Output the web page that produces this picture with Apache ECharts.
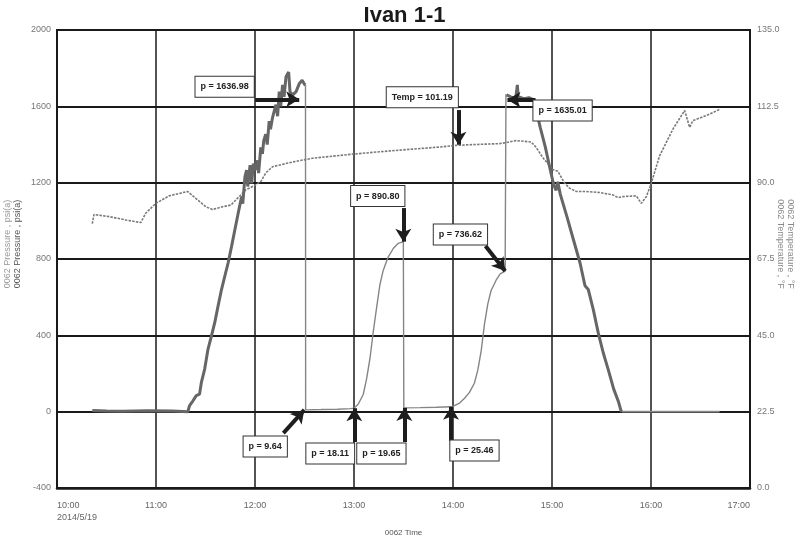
<!DOCTYPE html>
<html>
<head>
<meta charset="utf-8">
<script src="https://cdn.jsdelivr.net/npm/echarts@6/dist/echarts.min.js"></script>
<style>
html,body{margin:0;padding:0;background:#fff;}
#chart{width:809px;height:539px;}
</style>
</head>
<body>
<div id="chart"></div>
<script>
// ---- Data (time = minutes after 10:00 on 2014/5/19) ----
var chartTitle = 'Ivan 1-1';
var dateLabel = '2014/5/19';
var baseHour = 10;
var xTickMinutes = [0, 60, 120, 180, 240, 300, 360, 420];
var pressureTicks = [-400, 0, 400, 800, 1200, 1600, 2000];
var temperatureTicks = [0, 22.5, 45, 67.5, 90, 112.5, 135];

// pressure, first ramp up (psi(a))
var pUpTime = [21.4, 30, 40, 55, 70, 79.3, 80.3, 81.4, 82.4, 84.4, 86.4, 87.5, 89.5, 91.5, 93.6, 95.6, 97.6, 99.7, 101.7, 103.7, 105.8, 107.8, 109.8, 111.9, 112.6, 113.9, 114.9, 115.6, 117, 118, 119, 120, 121.4, 122.2, 123.5, 124.5, 125.3, 126.5, 127.4, 128.6, 129.4, 130.6, 131.6, 132.7, 133.7, 134.7, 135.6, 136.7, 137.6, 138.8, 140.4, 141.2, 142.9, 144.9, 146.9, 148.6, 150, 150.6];
var pUpValue = [6, 3, 2, 5, 3, 0, 31, 31, 57, 84, 92, 153, 223, 327, 397, 466, 553, 640, 710, 779, 866, 953, 1040, 1127, 1090, 1231, 1266, 1180, 1292, 1196, 1300, 1266, 1317, 1250, 1385, 1351, 1420, 1454, 1400, 1523, 1480, 1540, 1574, 1609, 1548, 1677, 1600, 1712, 1650, 1755, 1780, 1677, 1660, 1677, 1720, 1737, 1715, 1712];

// pressure, middle part (thin)
var pMidTime = [150.6, 150.7, 160, 170, 178, 180, 182.6, 185.6, 187.6, 189.7, 191.7, 193.7, 195.7, 197.7, 200.7, 203.8, 206.8, 209.9, 210.2, 220, 230, 238.8, 240.5, 244, 247, 250, 253, 255.1, 257.1, 259.1, 261.1, 263.1, 266.2, 268.6, 271.6, 272.1];
var pMidValue = [1712, 9.64, 11, 13, 16, 18.11, 40, 90, 170, 280, 420, 545, 665, 740, 810, 855, 882, 890.8, 19.65, 21, 23, 25.46, 30, 45, 70, 101, 150, 220, 320, 460, 565, 635, 690, 722, 736.62, 1665];

// pressure, ramp down
var pDnTime = [272.5, 275, 278, 279, 279.5, 283, 286, 289, 292.9, 296, 299, 301, 302.5, 303.5, 305, 309, 313, 317, 320, 322, 325, 328, 331, 334, 337.4, 340.4, 341.8, 342.4];
var pDnValue = [1660, 1650, 1640, 1712, 1650, 1640, 1645, 1634, 1488, 1385, 1265, 1190, 1160, 1205, 1140, 1023, 901, 779, 660, 640, 536, 414, 310, 223, 118, 49, 5, 0];

// pressure, final flat tail
var pTailTime = [342.4, 370, 401.6];
var pTailValue = [0, 0, 0];

// temperature (°F)
var tempTime = [21.4, 22.4, 31.5, 41.7, 50.8, 53.8, 59.9, 67.9, 79.1, 80.1, 84.1, 90.2, 94.2, 100.3, 105.4, 110.4, 114.5, 119.5, 123.6, 126.6, 130.6, 142.8, 154.9, 165.0, 179.2, 195.4, 215.6, 231.8, 241.9, 256.0, 268.2, 272.2, 278.3, 287.4, 290.4, 294.4, 300.5, 303.5, 307.6, 310.6, 314.7, 320.8, 328.8, 336.9, 339.9, 342.9, 351.1, 354.1, 357.2, 360.2, 365.2, 373.3, 380.4, 383.4, 385.4, 393.6, 401.6];
var tempValue = [77.9, 80.6, 80.0, 79.0, 78.25, 81.0, 83.9, 86.1, 87.4, 87.9, 85.4, 82.9, 82.1, 82.9, 83.4, 85.9, 87.9, 89.1, 90.4, 92.9, 94.7, 96.1, 97.2, 97.7, 98.4, 99.1, 99.9, 100.5, 101.0, 101.3, 101.5, 101.8, 102.4, 102.0, 100.4, 97.4, 93.9, 93.4, 89.9, 88.4, 87.4, 87.4, 87.1, 86.4, 85.6, 85.9, 86.1, 83.9, 85.9, 89.9, 97.9, 105.8, 111.3, 106.3, 108.3, 109.8, 111.6];

// annotations on pressure: text, box centre, arrow start, arrow tip
var pNoteText  = ['p = 1636.98', 'p = 1635.01', 'p = 890.80', 'p = 736.62', 'p = 9.64', 'p = 18.11', 'p = 19.65', 'p = 25.46'];
var pNoteBox   = [[101.6, 1700], [306.4, 1576], [194.4, 1127], [244.5, 926], [126.2, -185], [165.6, -222], [196.6, -222], [253, -206]];
var pNoteFrom  = [[120.1, 1637], [290, 1635], [209.9, 1067], [259.7, 868], [137.2, -112], [180.2, -159], [210.5, -159], [238.8, -154]];
var pNoteTo    = [[146.8, 1636.98], [273, 1635.01], [209.9, 890.8], [271.6, 736.62], [149.9, 9.64], [180.2, 18.11], [210.5, 19.65], [238.8, 25.46]];
// annotation on temperature
var tNoteText = ['Temp = 101.19'];
var tNoteBox  = [[221.4, 115.0]];
var tNoteFrom = [[243.3, 111.4]];
var tNoteTo   = [[243.3, 101.19]];

function zip(a, b) { return a.map(function (v, i) { return [v, b[i]]; }); }
function fmtTime(v) {
  var h = baseHour + Math.floor(v / 60), m = Math.round(v % 60);
  return h + ':' + (m < 10 ? '0' + m : m);
}

var font = "'Liberation Sans', Arial, sans-serif";
var boxLabel = {
  show: true, position: 'inside', color: '#222', fontWeight: 'bold', fontSize: 9,
  fontFamily: font, backgroundColor: '#fff', borderColor: '#333', borderWidth: 1,
  padding: [6, 5, 5, 5]
};
function notePoints(texts, boxes) {
  return texts.map(function (t, i) {
    return { coord: boxes[i], value: t, symbolSize: 1, itemStyle: { color: 'rgba(0,0,0,0)' },
             label: Object.assign({ formatter: t }, boxLabel) };
  });
}
function noteArrows(from, to) {
  return from.map(function (f, i) { return [{ coord: f }, { coord: to[i] }]; });
}
var arrowStyle = {
  symbol: ['none', 'arrow'], symbolSize: [12, 13], silent: true,
  lineStyle: { color: '#1e1e1e', width: 4, type: 'solid', opacity: 1 },
  label: { show: false }
};

var chart = echarts.init(document.getElementById('chart'), null, { renderer: 'canvas' });
chart.setOption({
  animation: false,
  backgroundColor: '#fff',
  title: {
    text: chartTitle, left: 'center', top: 0,
    textStyle: { fontSize: 22, fontWeight: 'bold', color: '#1a1a1a', fontFamily: font }
  },
  grid: { left: 57, right: 59, top: 30, bottom: 51, outerBoundsMode: 'none', containLabel: false,
          show: true, borderColor: '#1a1a1a', borderWidth: 2, backgroundColor: 'transparent' },
  xAxis: {
    type: 'value', min: xTickMinutes[0], max: xTickMinutes[xTickMinutes.length - 1], interval: 60,
    name: '0062 Time', nameLocation: 'middle', nameGap: 41, nameMoveOverlap: false,
    nameTextStyle: { color: '#555', fontSize: 8, fontFamily: font },
    axisLine: { show: true, onZero: false, lineStyle: { color: '#1a1a1a', width: 2.5 } },
    axisTick: { show: false },
    axisLabel: {
      margin: 12, color: '#666', fontSize: 9, fontFamily: font, lineHeight: 12,
      alignMinLabel: 'left', alignMaxLabel: 'right',
      formatter: function (v) { return v === xTickMinutes[0] ? fmtTime(v) + '\n' + dateLabel : fmtTime(v); }
    },
    splitLine: { show: true, lineStyle: { color: '#1a1a1a', width: 1.5 } }
  },
  yAxis: [{
    type: 'value', min: pressureTicks[0], max: pressureTicks[pressureTicks.length - 1], interval: 400,
    name: '{a|0062 Pressure , psi(a)}\n{b|0062 Pressure , psi(a)}',
    nameLocation: 'middle', nameGap: 34, nameRotate: 90, nameMoveOverlap: false,
    nameTextStyle: { fontSize: 9, fontFamily: font, lineHeight: 10, padding: [0, 0, 0, 30],
      rich: { a: { color: '#999', fontSize: 9, fontFamily: font }, b: { color: '#555', fontSize: 9, fontFamily: font } } },
    axisLine: { show: true, onZero: false, lineStyle: { color: '#1a1a1a', width: 2 } },
    axisTick: { show: false },
    axisLabel: { margin: 6, color: '#777', fontSize: 9, fontFamily: font, formatter: function (v) { return String(v); } },
    splitLine: { show: true, lineStyle: { color: '#1a1a1a', width: 2 } }
  }, {
    type: 'value', position: 'right', min: temperatureTicks[0], max: temperatureTicks[temperatureTicks.length - 1], interval: 22.5,
    name: '{a|0062 Temperature , °F}\n{b|0062 Temperature , °F}',
    nameLocation: 'middle', nameGap: 25, nameRotate: -90, nameMoveOverlap: false,
    nameTextStyle: { fontSize: 9, fontFamily: font, lineHeight: 10, padding: [0, 30, 0, 0],
      rich: { a: { color: '#888', fontSize: 9, fontFamily: font }, b: { color: '#888', fontSize: 9, fontFamily: font } } },
    axisLine: { show: true, lineStyle: { color: '#1a1a1a', width: 2 } },
    axisTick: { show: false },
    axisLabel: { margin: 7, color: '#777', fontSize: 9, fontFamily: font, formatter: function (v) { return v.toFixed(1); } },
    splitLine: { show: false }
  }],
  series: [{
    name: 'Temperature', type: 'line', yAxisIndex: 1, data: zip(tempTime, tempValue),
    showSymbol: false, symbol: 'none', z: 3,
    lineStyle: { color: '#7a7a7a', width: 1.6, type: [2.5, 1.2] },
    markPoint: { data: notePoints(tNoteText, tNoteBox), z: 10 },
    markLine: Object.assign({ data: noteArrows(tNoteFrom, tNoteTo) }, arrowStyle)
  }, {
    name: 'Pressure up', type: 'line', data: zip(pUpTime, pUpValue), showSymbol: false, symbol: 'none', z: 4,
    lineStyle: { color: '#666', width: 3 }
  }, {
    name: 'Pressure mid', type: 'line', data: zip(pMidTime, pMidValue), showSymbol: false, symbol: 'none', z: 4,
    lineStyle: { color: '#858585', width: 1.4 },
    markPoint: { data: notePoints(pNoteText, pNoteBox), z: 10 },
    markLine: Object.assign({ data: noteArrows(pNoteFrom, pNoteTo) }, arrowStyle)
  }, {
    name: 'Pressure down', type: 'line', data: zip(pDnTime, pDnValue), showSymbol: false, symbol: 'none', z: 4,
    lineStyle: { color: '#666', width: 3 }
  }, {
    name: 'Pressure tail', type: 'line', data: zip(pTailTime, pTailValue), showSymbol: false, symbol: 'none', z: 4,
    lineStyle: { color: '#8a8a8a', width: 1.6 }
  }]
});
</script>
</body>
</html>
